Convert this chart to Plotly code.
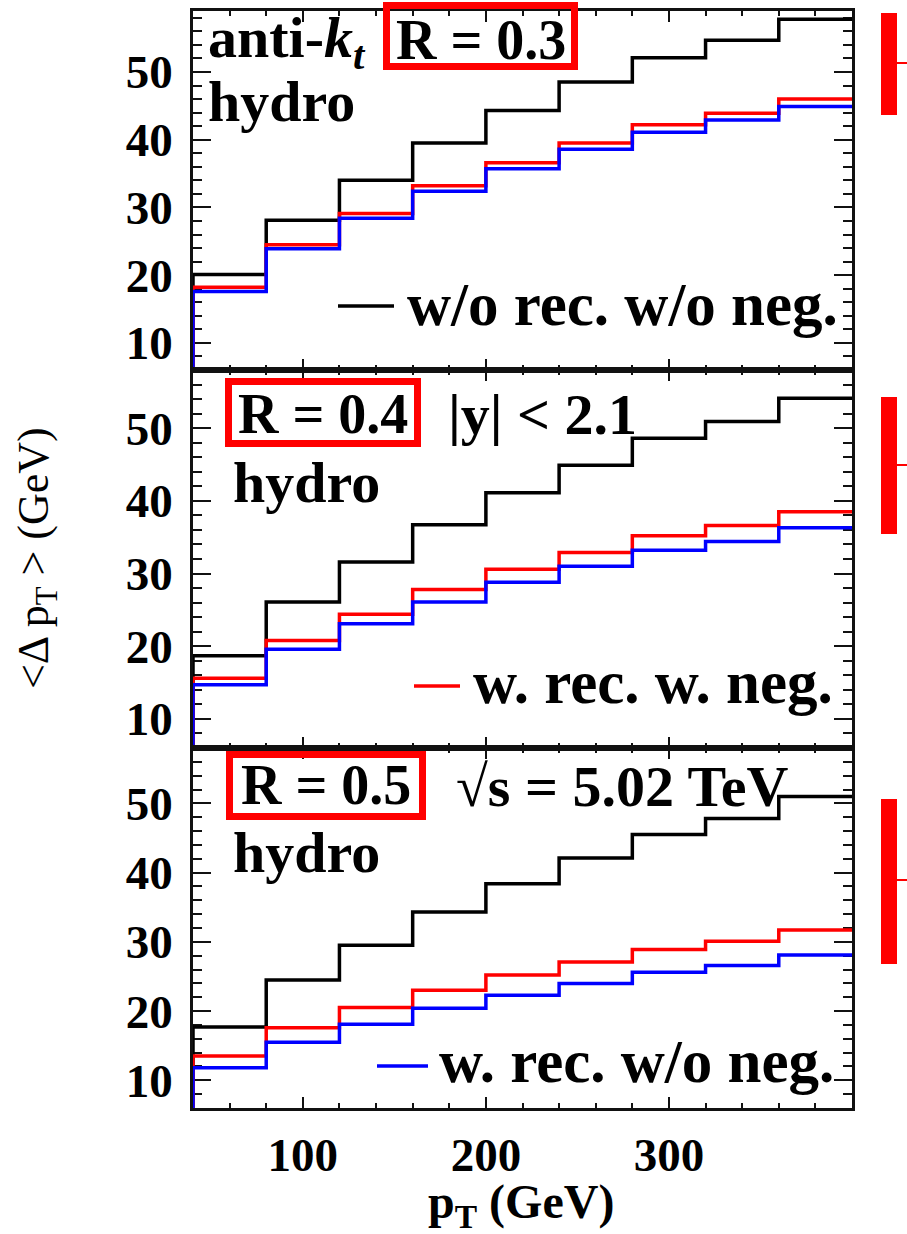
import plotly.graph_objects as go
from plotly.subplots import make_subplots

# ---------------- data ----------------
bin_edges = [40, 80, 120, 160, 200, 240, 280, 320, 360, 400]

r03_wo_rec_wo_neg = [20.1, 28.1, 34.0, 39.5, 44.3, 48.5, 52.1, 54.7, 57.8]
r03_w_rec_w_neg = [18.2, 24.5, 29.1, 33.2, 36.6, 39.5, 42.2, 43.9, 46.0]
r03_w_rec_wo_neg = [17.6, 23.9, 28.4, 32.4, 35.7, 38.6, 41.1, 42.9, 44.9]

r04_wo_rec_wo_neg = [18.7, 26.1, 31.6, 36.7, 41.1, 44.9, 48.6, 50.9, 54.1]
r04_w_rec_w_neg = [15.6, 20.8, 24.4, 27.8, 30.6, 32.9, 35.2, 36.6, 38.5]
r04_w_rec_wo_neg = [14.7, 19.6, 23.1, 26.1, 28.8, 31.0, 33.2, 34.4, 36.3]

r05_wo_rec_wo_neg = [17.7, 24.5, 29.5, 34.3, 38.4, 42.1, 45.5, 47.8, 51.0]
r05_w_rec_w_neg = [13.5, 17.6, 20.5, 23.0, 25.2, 27.1, 28.9, 30.1, 31.7]
r05_w_rec_wo_neg = [11.8, 15.5, 18.1, 20.4, 22.3, 24.0, 25.6, 26.6, 28.1]

series_names = ["w/o rec. w/o neg.", "w. rec. w. neg.", "w. rec. w/o neg."]
panel_labels = ["R = 0.3", "R = 0.4", "R = 0.5"]
y_ranges = [[6, 59], [6, 58], [6, 58]]
x_range = [40, 400]
x_tick_vals = [100, 200, 300]
y_tick_vals = [10, 20, 30, 40, 50]

panels = [
    [r03_wo_rec_wo_neg, r03_w_rec_w_neg, r03_w_rec_wo_neg],
    [r04_wo_rec_wo_neg, r04_w_rec_w_neg, r04_w_rec_wo_neg],
    [r05_wo_rec_wo_neg, r05_w_rec_w_neg, r05_w_rec_wo_neg],
]
colors = ["#000000", "#ff0000", "#0000ff"]

# ---------------- layout helpers ----------------
W, H = 907, 1234
def px(x):
    return x / W
def py(y):
    return 1 - y / H

FONT = "Liberation Serif"
frame_left, frame_right = 193, 852
panel_px = [(11, 370), (370, 748), (748, 1108)]

fig = make_subplots(rows=3, cols=1, shared_xaxes=True, vertical_spacing=0)

for r, series in enumerate(panels, start=1):
    ymin = y_ranges[r - 1][0]
    for vals, col, name in zip(series, colors, series_names):
        xs = [bin_edges[0]] + bin_edges
        ys = [ymin] + vals + [vals[-1]]
        fig.add_trace(
            go.Scatter(x=xs, y=ys, mode="lines", line=dict(color=col, width=3.5, shape="hv"),
                       name=name, showlegend=False, hoverinfo="skip", cliponaxis=True),
            row=r, col=1,
        )

for r in range(1, 4):
    top, bot = panel_px[r - 1]
    xa = "xaxis" if r == 1 else f"xaxis{r}"
    ya = "yaxis" if r == 1 else f"yaxis{r}"
    fig.layout[xa].update(
        domain=[px(frame_left), px(frame_right)], range=x_range,
        tickvals=x_tick_vals, ticks="inside", ticklen=11, tickwidth=2, tickcolor="#111",
        minor=dict(dtick=20, tick0=0, ticks="inside", ticklen=5, tickwidth=2, tickcolor="#111"),
        showline=True, linecolor="#111", linewidth=2.5, mirror="ticks",
        showgrid=False, zeroline=False, layer="below traces",
        showticklabels=(r == 3),
        tickfont=dict(family=FONT, size=47, color="#000", weight="bold"),
        ticklabelstandoff=4,
    )
    fig.layout[ya].update(
        domain=[py(bot), py(top)], range=y_ranges[r - 1],
        tickvals=y_tick_vals, ticks="inside", ticklen=18, tickwidth=2, tickcolor="#111",
        minor=dict(dtick=2, tick0=0, ticks="inside", ticklen=9, tickwidth=2, tickcolor="#111"),
        showline=True, linecolor="#111", linewidth=2.5, mirror="ticks",
        showgrid=False, zeroline=False, layer="below traces",
        tickfont=dict(family=FONT, size=47, color="#000", weight="bold"),
        ticklabelstandoff=8,
    )

ann_font = dict(family=FONT, size=58, color="#000", weight="bold")
box_font = dict(family=FONT, size=56, color="#000", weight="bold")
leg_font = dict(family=FONT, size=61, color="#000", weight="bold")
anns = []
def add_text(text, x, y, xanchor="left", font=None, textangle=0):
    anns.append(dict(text=text, x=px(x), y=py(y), xref="paper", yref="paper",
                     xanchor=xanchor, yanchor="middle", showarrow=False,
                     font=font or ann_font, textangle=textangle))

# panel 1
add_text("anti-<i>k</i><sub><i>t</i></sub>", 206, 42)
add_text(panel_labels[0], 481, 40, xanchor="center", font=box_font)
add_text("hydro", 206, 101)
add_text(series_names[0], 405, 304, font=leg_font)
# panel 2
add_text(panel_labels[1], 323, 414, xanchor="center", font=box_font)
add_text("|y| < 2.1", 446, 415)
add_text("hydro", 231, 482)
add_text(series_names[1], 471, 682, font=leg_font)
# panel 3
add_text(panel_labels[2], 326, 785, xanchor="center", font=box_font)
add_text("√s = 5.02 TeV", 454, 786)
add_text("hydro", 231, 853)
add_text(series_names[2], 437, 1061, font=leg_font)

# axis titles
add_text("p<sub>T</sub> (GeV)", 521, 1205, xanchor="center",
         font=dict(family=FONT, size=48, color="#000", weight="bold"))
anns.append(dict(text="<Δ p<sub>T</sub> > (GeV)", x=px(36), y=py(558), xref="paper", yref="paper",
                 xanchor="center", yanchor="middle", showarrow=False, textangle=-90,
                 font=dict(family=FONT, size=44, color="#000")))

shapes = []
# red boxes around R labels
for (x0, y0, x1, y1) in [(383, 2, 578, 70), (225, 378, 421, 447), (226, 751, 426, 820)]:
    shapes.append(dict(type="rect", xref="paper", yref="paper",
                       x0=px(x0 + 3.5), x1=px(x1 - 3.5), y0=py(y1 - 3.5), y1=py(y0 + 3.5),
                       line=dict(color="#ff0000", width=7), fillcolor="rgba(0,0,0,0)"))
# legend line samples
for (x0, x1, y, col) in [(338, 394, 306, colors[0]), (414, 460, 686, colors[1]), (377, 428, 1066, colors[2])]:
    shapes.append(dict(type="line", xref="paper", yref="paper", x0=px(x0), x1=px(x1), y0=py(y), y1=py(y),
                       line=dict(color=col, width=3.5)))
# red side brackets (cropped)
for (y0, y1, yt) in [(13, 115, 63), (397, 534, 465), (799, 964, 880)]:
    shapes.append(dict(type="rect", xref="paper", yref="paper", x0=px(881), x1=px(897),
                       y0=py(y1), y1=py(y0), line=dict(width=0), fillcolor="#ff0000"))
    shapes.append(dict(type="line", xref="paper", yref="paper", x0=px(897), x1=px(907),
                       y0=py(yt), y1=py(yt), line=dict(color="#ff0000", width=2)))

fig.update_layout(
    width=W, height=H, margin=dict(l=0, r=0, t=0, b=0),
    paper_bgcolor="white", plot_bgcolor="white",
    annotations=anns, shapes=shapes, showlegend=False,
)

fig.write_html("out.html")
